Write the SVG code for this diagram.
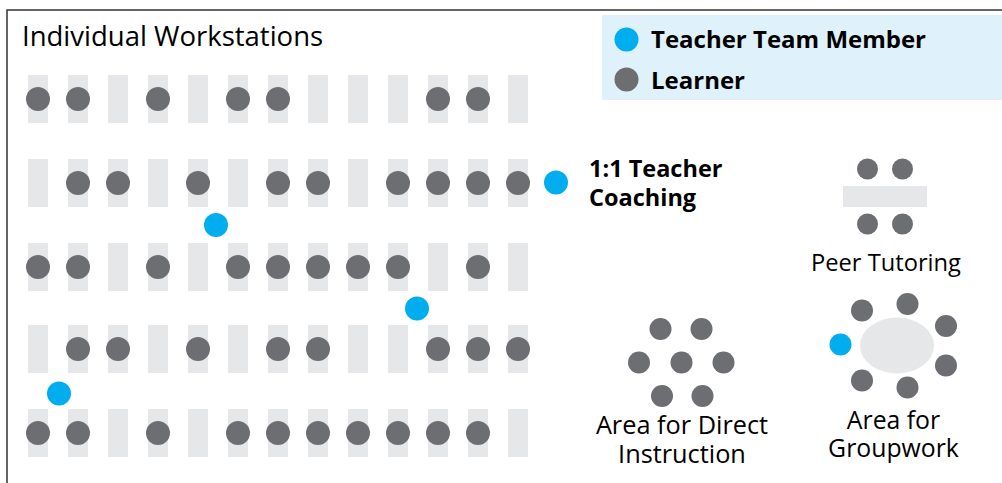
<svg xmlns="http://www.w3.org/2000/svg" width="1002" height="483" viewBox="0 0 1002 483">
<style>
.bar{fill:#e6e7e8}
.l{fill:#6d6e71}
.t{fill:#00aeef}
.txt{font-family:"Open Sans","Noto Sans",sans-serif;fill:#000}
.b{font-weight:bold}
</style>
<defs>
<rect id="desk" class="bar" x="-10" y="0" width="20" height="48"/>
<circle id="lr" class="l" r="12"/>
<circle id="tm" class="t" r="12"/>
</defs>
<rect x="0" y="0" width="1002" height="483" fill="#fff"/>
<path d="M7,490 V10 H1010" fill="none" stroke="#333" stroke-width="1.5"/>
<g id="legend">
<rect x="602" y="15" width="410" height="85" fill="#dff1fb"/>
<use href="#tm" x="626.5" y="39.5"/>
<use href="#lr" x="626.5" y="79.5"/>
<text class="txt b" x="651" y="48" font-size="24">Teacher Team Member</text>
<text class="txt b" x="651" y="89" font-size="24">Learner</text>
</g>
<g id="workstations">
<text class="txt" x="22" y="46" font-size="27.5">Individual Workstations</text>
<g id="desks">
<g transform="translate(0,75)">
<use href="#desk" x="38"/><use href="#desk" x="78"/><use href="#desk" x="118"/><use href="#desk" x="158"/><use href="#desk" x="198"/><use href="#desk" x="238"/><use href="#desk" x="278"/><use href="#desk" x="318"/><use href="#desk" x="358"/><use href="#desk" x="398"/><use href="#desk" x="438"/><use href="#desk" x="478"/><use href="#desk" x="518"/>
</g>
<g transform="translate(0,159)">
<use href="#desk" x="38"/><use href="#desk" x="78"/><use href="#desk" x="118"/><use href="#desk" x="158"/><use href="#desk" x="198"/><use href="#desk" x="238"/><use href="#desk" x="278"/><use href="#desk" x="318"/><use href="#desk" x="358"/><use href="#desk" x="398"/><use href="#desk" x="438"/><use href="#desk" x="478"/><use href="#desk" x="518"/>
</g>
<g transform="translate(0,243)">
<use href="#desk" x="38"/><use href="#desk" x="78"/><use href="#desk" x="118"/><use href="#desk" x="158"/><use href="#desk" x="198"/><use href="#desk" x="238"/><use href="#desk" x="278"/><use href="#desk" x="318"/><use href="#desk" x="358"/><use href="#desk" x="398"/><use href="#desk" x="438"/><use href="#desk" x="478"/><use href="#desk" x="518"/>
</g>
<g transform="translate(0,325)">
<use href="#desk" x="38"/><use href="#desk" x="78"/><use href="#desk" x="118"/><use href="#desk" x="158"/><use href="#desk" x="198"/><use href="#desk" x="238"/><use href="#desk" x="278"/><use href="#desk" x="318"/><use href="#desk" x="358"/><use href="#desk" x="398"/><use href="#desk" x="438"/><use href="#desk" x="478"/><use href="#desk" x="518"/>
</g>
<g transform="translate(0,409)">
<use href="#desk" x="38"/><use href="#desk" x="78"/><use href="#desk" x="118"/><use href="#desk" x="158"/><use href="#desk" x="198"/><use href="#desk" x="238"/><use href="#desk" x="278"/><use href="#desk" x="318"/><use href="#desk" x="358"/><use href="#desk" x="398"/><use href="#desk" x="438"/><use href="#desk" x="478"/><use href="#desk" x="518"/>
</g>
</g>
<g id="learners">
<g transform="translate(0,99)">
<use href="#lr" x="38"/><use href="#lr" x="78"/><use href="#lr" x="158"/><use href="#lr" x="238"/><use href="#lr" x="278"/><use href="#lr" x="438"/><use href="#lr" x="478"/>
</g>
<g transform="translate(0,183)">
<use href="#lr" x="78"/><use href="#lr" x="118"/><use href="#lr" x="198"/><use href="#lr" x="278"/><use href="#lr" x="318"/><use href="#lr" x="398"/><use href="#lr" x="438"/><use href="#lr" x="478"/><use href="#lr" x="518"/>
</g>
<g transform="translate(0,267)">
<use href="#lr" x="38"/><use href="#lr" x="78"/><use href="#lr" x="158"/><use href="#lr" x="238"/><use href="#lr" x="278"/><use href="#lr" x="318"/><use href="#lr" x="358"/><use href="#lr" x="398"/><use href="#lr" x="478"/>
</g>
<g transform="translate(0,349)">
<use href="#lr" x="78"/><use href="#lr" x="118"/><use href="#lr" x="198"/><use href="#lr" x="278"/><use href="#lr" x="318"/><use href="#lr" x="438"/><use href="#lr" x="478"/><use href="#lr" x="518"/>
</g>
<g transform="translate(0,433)">
<use href="#lr" x="38"/><use href="#lr" x="78"/><use href="#lr" x="158"/><use href="#lr" x="238"/><use href="#lr" x="278"/><use href="#lr" x="318"/><use href="#lr" x="358"/><use href="#lr" x="398"/><use href="#lr" x="438"/><use href="#lr" x="478"/>
</g>
</g>
<g id="teachers">
<use href="#tm" x="216" y="225"/>
<use href="#tm" x="417" y="308.5"/>
<use href="#tm" x="59" y="393.5"/>
</g>
</g>
<g id="coaching">
<use href="#tm" x="556" y="182.5"/>
<text class="txt b" font-size="23.5"><tspan x="589" y="177">1:1 Teacher</tspan><tspan x="589" y="205.5">Coaching</tspan></text>
</g>
<g id="peer-tutoring">
<rect class="bar" x="843" y="186" width="84" height="21"/>
<circle class="l" cx="867.5" cy="169" r="10.5"/>
<circle class="l" cx="902.5" cy="169" r="10.5"/>
<circle class="l" cx="867.5" cy="224" r="10.5"/>
<circle class="l" cx="902.5" cy="224" r="10.5"/>
<text class="txt" x="886" y="271" font-size="23.7" text-anchor="middle">Peer Tutoring</text>
</g>
<g id="direct-instruction">
<circle class="l" cx="660.5" cy="329" r="11"/>
<circle class="l" cx="701.5" cy="329" r="11"/>
<circle class="l" cx="639" cy="362.5" r="11"/>
<circle class="l" cx="681.5" cy="362.5" r="11"/>
<circle class="l" cx="723.5" cy="362.5" r="11"/>
<circle class="l" cx="662" cy="396" r="11"/>
<circle class="l" cx="702.5" cy="396" r="11"/>
<text class="txt" font-size="25.3" text-anchor="middle"><tspan x="682" y="434">Area for Direct</tspan><tspan x="682" y="462.5">Instruction</tspan></text>
</g>
<g id="groupwork">
<ellipse class="bar" cx="897" cy="345.5" rx="37" ry="28"/>
<circle class="l" cx="862" cy="310.5" r="11"/>
<circle class="l" cx="907.5" cy="304" r="11"/>
<circle class="l" cx="946" cy="326" r="11"/>
<circle class="l" cx="946" cy="365.5" r="11"/>
<circle class="l" cx="907.5" cy="387.5" r="11"/>
<circle class="l" cx="862" cy="380.5" r="11"/>
<circle class="t" cx="840.5" cy="344.5" r="11"/>
<text class="txt" font-size="24.8" text-anchor="middle"><tspan x="893.5" y="428.5">Area for</tspan><tspan x="893.5" y="456.5">Groupwork</tspan></text>
</g>
</svg>
